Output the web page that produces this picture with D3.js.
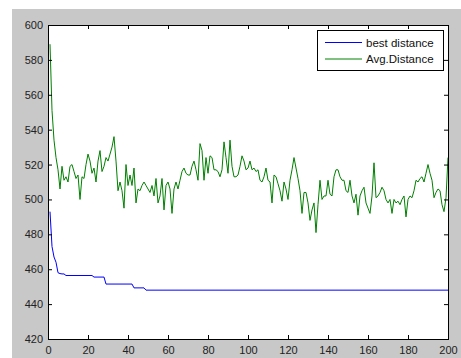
<!DOCTYPE html>
<html>
<head>
<meta charset="utf-8">
<script src="https://cdn.jsdelivr.net/npm/d3@7"></script>
<style>
  html, body { margin: 0; padding: 0; background: #fff; }
  svg { display: block; }
  text { font-family: "Liberation Sans", Arial, sans-serif; }
</style>
</head>
<body>
<svg id="chart" width="461" height="358"></svg>
<script>
// x values are generation numbers 1..200
const generations = d3.range(1, 201);

const bestDistance = [
  493, 473, 467, 464, 458, 457.5, 457.3, 457.3, 456.4, 456.4, 456.4, 456.4, 456.4, 456.4, 456.4, 456.4, 456.4, 456.4, 456.4, 456.4,
  456.4, 456.4, 455.5, 455.5, 455.5, 455.5, 455.5, 455.5, 451.5, 451.5, 451.5, 451.5, 451.5, 451.5, 451.5, 451.5, 451.5, 451.5, 451.5, 451.5,
  451.5, 451.5, 449.3, 449.3, 449.3, 449.3, 449.3, 449.3, 448, 448, 448, 448, 448, 448, 448, 448, 448, 448, 448, 448,
  448, 448, 448, 448, 448, 448, 448, 448, 448, 448, 448, 448, 448, 448, 448, 448, 448, 448, 448, 448,
  448, 448, 448, 448, 448, 448, 448, 448, 448, 448, 448, 448, 448, 448, 448, 448, 448, 448, 448, 448,
  448, 448, 448, 448, 448, 448, 448, 448, 448, 448, 448, 448, 448, 448, 448, 448, 448, 448, 448, 448,
  448, 448, 448, 448, 448, 448, 448, 448, 448, 448, 448, 448, 448, 448, 448, 448, 448, 448, 448, 448,
  448, 448, 448, 448, 448, 448, 448, 448, 448, 448, 448, 448, 448, 448, 448, 448, 448, 448, 448, 448,
  448, 448, 448, 448, 448, 448, 448, 448, 448, 448, 448, 448, 448, 448, 448, 448, 448, 448, 448, 448,
  448, 448, 448, 448, 448, 448, 448, 448, 448, 448, 448, 448, 448, 448, 448, 448, 448, 448, 448, 448
];

const avgDistance = [
  589, 551, 534, 524, 517, 506, 519, 511, 513, 510, 519, 520, 516, 512, 514, 500, 513, 512, 520, 526,
  522, 515, 518, 510, 522, 528, 516, 519, 524, 522, 526, 530, 536, 522, 505, 510, 505, 495, 520, 508,
  514, 508, 518, 498, 506, 505, 508, 510, 508, 506, 504, 508, 502, 512, 498, 502, 512, 494, 508, 510,
  506, 492, 506, 510, 506, 511, 516, 518, 515, 514, 514, 519, 522, 517, 511, 532, 528, 511, 524, 515,
  525, 524, 517, 517, 516, 513, 517, 533, 524, 515, 534, 519, 513, 513, 514, 519, 525, 522, 517, 518,
  522, 517, 518, 516, 517, 511, 510, 513, 518, 511, 510, 498, 514, 513, 509, 505, 499, 510, 506, 500,
  511, 517, 524, 518, 512, 505, 492, 504, 504, 498, 488, 494, 498, 481, 497, 511, 500, 502, 502, 511,
  503, 502, 513, 517, 517, 513, 511, 511, 505, 504, 511, 502, 498, 503, 491, 502, 505, 507, 498, 495,
  492, 502, 521, 501, 502, 504, 507, 505, 500, 498, 500, 492, 500, 498, 499, 497, 500, 502, 490, 500,
  502, 501, 505, 511, 510, 512, 513, 510, 515, 520, 515, 511, 501, 504, 506, 505, 497, 493, 501, 524
];

const xTicks = d3.range(0, 201, 20);
const yTicks = d3.range(420, 601, 20);
const seriesNames = ["best distance", "Avg.Distance"];
const seriesColors = ["#0000ff", "#008000"];

const svg = d3.select("#chart");

// figure background (grey, like a MATLAB figure window)
svg.append("rect").attr("x", 12).attr("y", 9).attr("width", 449).attr("height", 349).attr("fill", "#c8c8c8");

const plotL = 48, plotR = 448, plotT = 25, plotB = 339;
const x = d3.scaleLinear().domain([0, 200]).range([plotL, plotR]);
const y = d3.scaleLinear().domain([420, 600]).range([plotB, plotT]);

svg.append("rect")
  .attr("x", plotL).attr("y", plotT)
  .attr("width", plotR - plotL).attr("height", plotB - plotT)
  .attr("fill", "#fff");

// lines
const line = d3.line().x((d, i) => x(generations[i])).y(d => y(d));
[bestDistance, avgDistance].forEach((vals, k) => {
  svg.append("path")
    .datum(vals)
    .attr("fill", "none")
    .attr("stroke", seriesColors[k])
    .attr("stroke-width", 1)
    .attr("d", line);
});

// axes, ticks pointing inwards, mirrored on top/right
const tickLen = 4;
const axisStyle = g => {
  g.selectAll(".domain").attr("stroke", "#000");
  g.selectAll(".tick line").attr("stroke", "#000");
  g.selectAll(".tick text").attr("fill", "#222").attr("font-size", "11px");
};

svg.append("g").attr("transform", `translate(0,${plotB})`)
  .call(d3.axisBottom(x).tickValues(xTicks).tickSizeInner(-tickLen).tickSizeOuter(0).tickPadding(7))
  .call(axisStyle);
svg.append("g").attr("transform", `translate(0,${plotT})`)
  .call(d3.axisTop(x).tickValues(xTicks).tickSizeInner(-tickLen).tickSizeOuter(0).tickFormat(""))
  .call(axisStyle);
svg.append("g").attr("transform", `translate(${plotL},0)`)
  .call(d3.axisLeft(y).tickValues(yTicks).tickSizeInner(-tickLen).tickSizeOuter(0).tickPadding(5))
  .call(axisStyle);
svg.append("g").attr("transform", `translate(${plotR},0)`)
  .call(d3.axisRight(y).tickValues(yTicks).tickSizeInner(-tickLen).tickSizeOuter(0).tickFormat(""))
  .call(axisStyle);

svg.selectAll(".domain").attr("shape-rendering", "crispEdges");

// legend
const legend = svg.append("g");
legend.append("rect")
  .attr("x", 317.5).attr("y", 30.5).attr("width", 126).attr("height", 40)
  .attr("fill", "#fff").attr("stroke", "#000");
seriesNames.forEach((name, i) => {
  const ly = 42.5 + i * 16.5;
  legend.append("line")
    .attr("x1", 325).attr("x2", 362).attr("y1", ly).attr("y2", ly)
    .attr("stroke", seriesColors[i]).attr("stroke-width", 1);
  legend.append("text")
    .attr("x", 366).attr("y", ly + 4)
    .attr("font-size", "11.5px").attr("fill", "#111")
    .text(name);
});
</script>
</body>
</html>
